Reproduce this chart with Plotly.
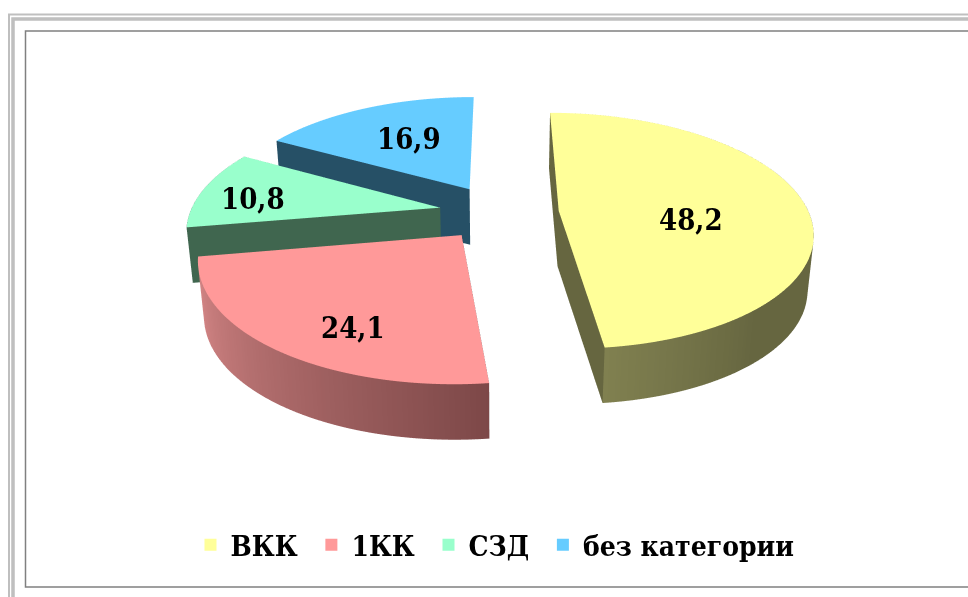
import numpy as np
import plotly.graph_objects as go

categories = ["ВКК", "1КК", "СЗД", "без категории"]
values = [48.2, 24.1, 10.8, 16.9]
top_colors = ["#FFFF99", "#FF9999", "#99FFCC", "#66CCFF"]
face_colors = ["#666640", "#664040", "#40664F", "#265066"]
wall_start = [(102,102,64), (125,72,72), (64,102,82), (38,80,102)]
wall_end = [(128,128,80), (218,138,138), (64,102,82), (38,80,102)]
label_radius = [0.55, 0.62, 0.72, 0.62]
label_shift_x = [-0.014, 0.002, -0.063, 0.027]
label_shift_y = [-0.109, -0.231, -0.046, -0.022]

W, H = 968, 597
PULL = 0.24
THICK = 0.25
K = 0.17
ROT = 0.0
FONT = "DejaVu Serif Condensed"

def warp(x, y, z):
    z = np.asarray(z, dtype=float)
    s = 1.0 / (1.0 + K * np.asarray(y, dtype=float))
    taper = 1.0 - 0.08 * (THICK - z)
    return np.asarray(x) * s * taper, np.asarray(y) * s, z

def hexs(c):
    return "rgb(%d,%d,%d)" % tuple(int(round(v)) for v in c)

def wedge(t0, t1, idx):
    last = idx == len(values) - 1
    mid = np.radians((t0 + t1) / 2)
    ox, oy = PULL * np.sin(mid), PULL * np.cos(mid)
    th = np.radians(np.linspace(t0, t1, 90))
    ax, ay = ox + np.sin(th), oy + np.cos(th)
    traces = []
    x = np.r_[ox, ax]; y = np.r_[oy, ay]; z = np.full(x.size, THICK)
    i = np.zeros(th.size - 1, int); j = np.arange(1, th.size); k = j + 1
    wx, wy, wz = warp(x, y, z)
    traces.append(dict(x=wx, y=wy, z=wz, i=i, j=j, k=k, color=top_colors[idx]))
    # the last slice's outer wall and closing face point away from the viewer
    if not last:
        f = np.linspace(0, 1, th.size)
        f = np.clip((f - (0.8 if idx == 0 else 0.0)) / (0.2 if idx == 0 else 1.0), 0, 1)
        cols = [hexs(np.array(wall_start[idx]) * (1 - v) + np.array(wall_end[idx]) * v) for v in f]
        x = np.r_[ax, ax]; y = np.r_[ay, ay]; z = np.r_[np.full(th.size, THICK), np.zeros(th.size)]
        n = th.size
        a = np.arange(n - 1)
        i = np.r_[a, a + 1]
        j = np.r_[a + 1, a + n]
        k = np.r_[a + n, a + n + 1]
        wx, wy, wz = warp(x, y, z)
        traces.append(dict(x=wx, y=wy, z=wz, i=i, j=j, k=k, vertexcolor=cols + cols))
    for e_ in ((0,) if last else (0, -1)):
        x = [ox, ax[e_], ax[e_], ox]; y = [oy, ay[e_], ay[e_], oy]; z = [THICK, THICK, 0, 0]
        wx, wy, wz = warp(x, y, z)
        traces.append(dict(x=wx, y=wy, z=wz, i=[0, 0], j=[1, 2], k=[2, 3], color=face_colors[idx]))
    return traces

fig = go.Figure()
annos = []
start = ROT
for n, v in enumerate(values):
    end = start + v * 3.6
    for t in wedge(start, end, n):
        fig.add_trace(go.Mesh3d(flatshading=True, hoverinfo="skip", showscale=False,
                                lighting=dict(ambient=1, diffuse=0, specular=0, fresnel=0, roughness=1), **t))
    mid = np.radians((start + end) / 2)
    lx = (PULL + label_radius[n]) * np.sin(mid)
    ly = (PULL + label_radius[n]) * np.cos(mid)
    wx, wy, wz = warp(lx, ly, THICK)
    annos.append(dict(x=float(wx) + label_shift_x[n], y=float(wy) + label_shift_y[n], z=float(wz),
                      text=("%.1f" % v).replace(".", ","),
                      showarrow=False, font=dict(family=FONT, size=29, color="black", weight="bold")))
    start = end

for n, c in enumerate(categories):
    fig.add_trace(go.Scatter(x=[None], y=[None], mode="markers", name=c + "\u00a0", showlegend=True,
                             marker=dict(symbol="square", size=17, color=top_colors[n])))

def rect(x0, y0, x1, y1, col, w):
    return dict(type="rect", xref="paper", yref="paper", x0=x0 / W, x1=x1 / W,
                y0=1 - y1 / H, y1=1 - y0 / H, line=dict(color=col, width=w), layer="above")

frame = [rect(9, 14.5, W + 20, H + 20, "#BFBFBF", 2),
         rect(13, 19, W + 20, H + 20, "#BFBFBF", 3.5),
         rect(25.5, 31, W + 20, 587, "#808080", 1.5)]

L = 1.6
A = 2.68
e = np.radians(27.4)
D = 3.0
C = np.array([-0.05, 0.0, -0.116])
eye = C + D * np.array([0, -np.cos(e), np.sin(e)])
fig.update_layout(
    width=W, height=H, margin=dict(l=0, r=0, t=0, b=0), paper_bgcolor="white", plot_bgcolor="white",
    xaxis=dict(visible=False), yaxis=dict(visible=False), shapes=frame,
    legend=dict(orientation="h", x=0.516, xanchor="center", y=0.087, yanchor="middle",
                font=dict(family=FONT, size=28, color="black", weight="bold"), itemsizing="constant",
                itemwidth=30, bgcolor="rgba(0,0,0,0)"),
    scene=dict(
        domain=dict(x=[0, 1], y=[0, 1]),
        xaxis=dict(visible=False, range=[-L, L]),
        yaxis=dict(visible=False, range=[-L, L]),
        zaxis=dict(visible=False, range=[-L, L]),
        aspectmode="manual", aspectratio=dict(x=A, y=A, z=A),
        camera=dict(projection=dict(type="orthographic"), up=dict(x=0, y=0, z=1),
                    center=dict(x=float(C[0]), y=float(C[1]), z=float(C[2])),
                    eye=dict(x=float(eye[0]), y=float(eye[1]), z=float(eye[2]))),
        annotations=annos,
    ),
)
fig.write_html("out.html", post_script="document.body.style.margin='0';", config=dict(displayModeBar=False))
